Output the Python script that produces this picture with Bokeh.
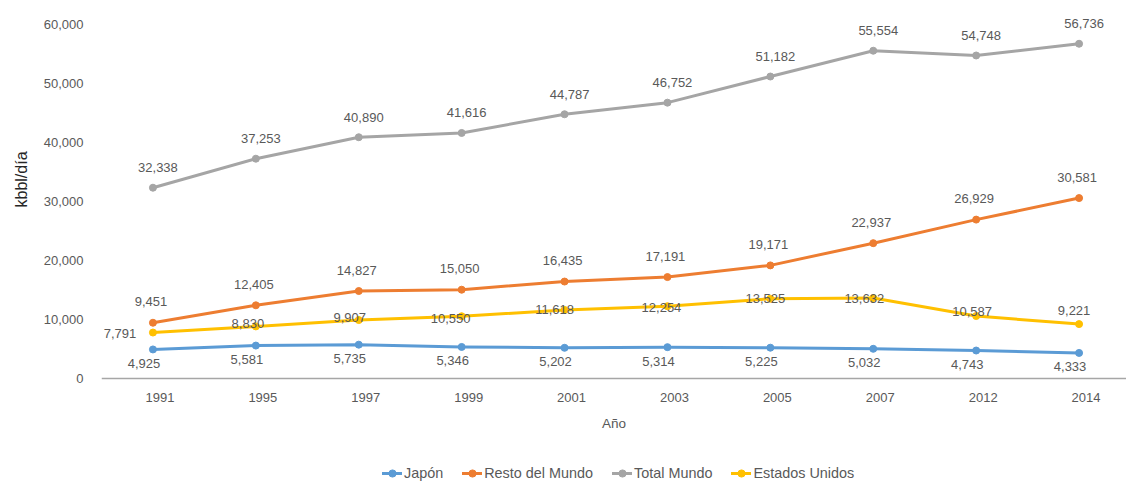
from bokeh.plotting import figure
from bokeh.models import Range1d, FixedTicker, Legend, LegendItem, ColumnDataSource, Title
from bokeh.core.properties import value
from bokeh.embed import file_html
from bokeh.resources import INLINE

years = ["1991", "1995", "1997", "1999", "2001", "2003", "2005", "2007", "2012", "2014"]
japon = [4925, 5581, 5735, 5346, 5202, 5314, 5225, 5032, 4743, 4333]
resto = [9451, 12405, 14827, 15050, 16435, 17191, 19171, 22937, 26929, 30581]
total = [32338, 37253, 40890, 41616, 44787, 46752, 51182, 55554, 54748, 56736]
eeuu = [7791, 8830, 9907, 10550, 11618, 12254, 13525, 13632, 10587, 9221]
y_ticks = [0, 10000, 20000, 30000, 40000, 50000, 60000]

# label placement styles (pixels)
eeuu_dx = [-33, -8, -9, -11, -10, -6, -5, -9, -4, -5]
eeuu_dy = [1, -3, -3, 2, 0, 1, 0, 0, -5, -14]

FONT = "Liberation Sans"
GRAY = "#595959"

idx = list(range(len(years)))

# frame spans the full height; value 0 sits at 378 px, 60000 at 24 px
px_per = (378 - 24) / 60000
y_low = -(482 - 378) / px_per
y_high = 60000 + 24 / px_per

p = figure(width=1126, height=482, output_backend="svg", toolbar_location=None,
           x_range=Range1d(-0.5, 9.461), y_range=Range1d(y_low, y_high),
           min_border_left=101, min_border_right=0, min_border_top=0, min_border_bottom=0)
p.outline_line_color = None
p.xgrid.visible = False
p.ygrid.visible = False
p.background_fill_color = "white"
p.border_fill_color = "white"

# y axis
ya = p.yaxis[0]
ya.ticker = FixedTicker(ticks=y_ticks)
ya.major_label_overrides = {t: f"{t:,}" for t in y_ticks}
ya.axis_line_color = None
ya.major_tick_line_color = None
ya.minor_tick_line_color = None
ya.major_tick_out = 0
ya.major_tick_in = 0
ya.major_label_standoff = 18
ya.major_label_text_font = FONT
ya.major_label_text_font_size = "13px"
ya.major_label_text_color = GRAY

ytitle = Title(text="kbbl/día", align="left", offset=275, standoff=21,
               text_font=FONT, text_font_size="16px", text_font_style="normal",
               text_color="#262626")
p.add_layout(ytitle, "left")

# x axis placed at value 0
xa = p.xaxis[0]
xa.fixed_location = 0
tick_shift = 0.068
xticks = [i + tick_shift for i in idx]
xa.ticker = FixedTicker(ticks=xticks)
xa.major_label_overrides = {t: y for t, y in zip(xticks, years)}
xa.minor_tick_line_color = None
xa.major_tick_line_color = None
xa.major_tick_out = 0
xa.major_tick_in = 0
xa.axis_line_color = "#a6a6a6"
xa.axis_line_width = 1.5
xa.major_label_standoff = 14
xa.major_label_text_font = FONT
xa.major_label_text_font_size = "13px"
xa.major_label_text_color = GRAY
xa.axis_label = "Año"
xa.axis_label_text_font = FONT
xa.axis_label_text_font_size = "13.5px"
xa.axis_label_text_font_style = "normal"
xa.axis_label_text_color = GRAY
xa.axis_label_standoff = 11

series = [
    ("Japón", japon, "#5B9BD5"),
    ("Resto del Mundo", resto, "#ED7D31"),
    ("Total Mundo", total, "#A5A5A5"),
    ("Estados Unidos", eeuu, "#FFC000"),
]

items = []
for name, vals, col in series:
    src = ColumnDataSource(dict(x=idx, y=vals))
    ln = p.line("x", "y", source=src, line_color=col, line_width=3, line_join="round", line_cap="round")
    sc = p.scatter("x", "y", source=src, size=7, fill_color=col, line_color=col)
    items.append(LegendItem(label=name, renderers=[ln, sc]))

def add_labels(vals, dx, dy):
    src = ColumnDataSource(dict(x=idx, y=vals, t=[f"{v:,}" for v in vals], dx=dx, dy=dy))
    p.text("x", "y", text="t", source=src, x_offset="dx", y_offset="dy",
           text_align="center", text_baseline="middle",
           text_font=value(FONT), text_font_size="13px", text_color=GRAY)

n = len(idx)
add_labels(japon, [-9] * n, [14] * n)
add_labels(resto, [-2] * n, [-21] * n)
add_labels(total, [5] * n, [-20] * n)
add_labels(eeuu, eeuu_dx, eeuu_dy)

legend = Legend(items=items, orientation="horizontal", location=(281, 0),
                padding=0, margin=0, spacing=19, label_standoff=2,
                glyph_width=20, glyph_height=18, label_height=18,
                border_line_color=None, background_fill_alpha=0,
                label_text_font=FONT, label_text_font_size="14.4px", label_text_color=GRAY)
p.add_layout(legend, "center")

open("out.html", "w").write(file_html(p, INLINE))
